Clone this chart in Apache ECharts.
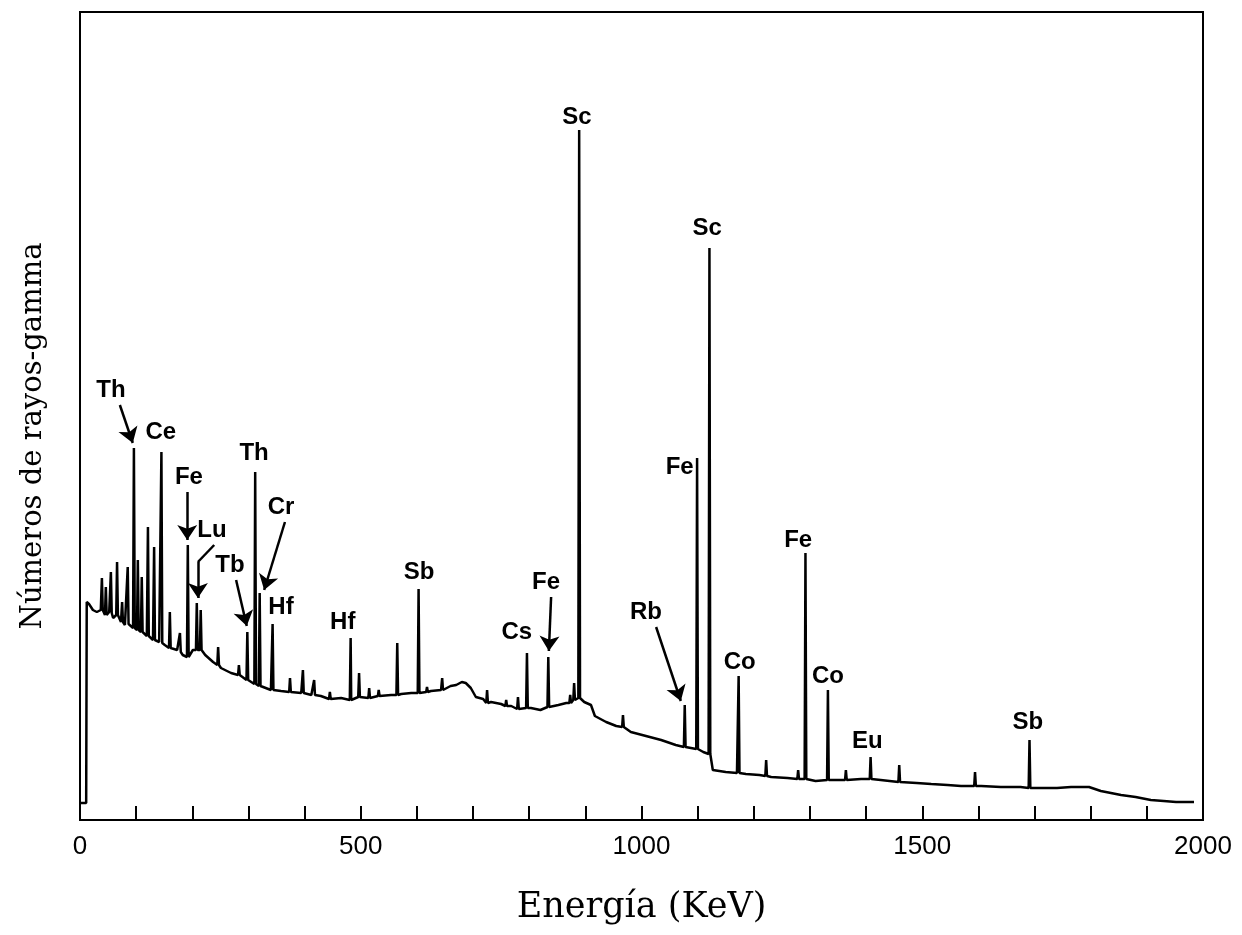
<!DOCTYPE html>
<html>
<head>
<meta charset="utf-8">
<script src="https://cdn.jsdelivr.net/npm/echarts@6/dist/echarts.min.js"></script>
<style>html,body{margin:0;padding:0;background:#fff}#c{width:1242px;height:935px}</style>
</head>
<body>
<div id="c"></div>
<script>
// Continuum (baseline) of the spectrum: energy (keV) and counts (arbitrary units)
const baseE = [0, 11, 12, 16, 23, 30, 37, 45, 52, 59, 66, 73, 80, 87, 98, 109, 119, 130, 141, 151, 162, 173, 183, 194, 201, 212, 223, 237, 251, 269, 287, 305, 322, 340, 358, 376, 394, 412, 429, 447, 465, 483, 500, 518, 536, 554, 572, 590, 607, 625, 643, 660, 670, 680, 687, 696, 705, 718, 732, 750, 768, 785, 803, 820, 839, 852, 866, 883, 898, 910, 917, 937, 955, 981, 1008, 1035, 1061, 1088, 1110, 1127, 1150, 1170, 1186, 1210, 1231, 1260, 1284, 1310, 1337, 1391, 1426, 1462, 1490, 1516, 1545, 1569, 1605, 1640, 1675, 1711, 1740, 1765, 1797, 1818, 1854, 1880, 1907, 1930, 1952, 1984];
const baseV = [17, 17, 218, 216, 210, 208, 210, 205, 208, 202, 205, 198, 195, 198, 190, 188, 184, 180, 178, 175, 172, 170, 165, 162, 170, 172, 165, 158, 152, 147, 143, 138, 133, 130, 129, 128, 127, 125, 124, 121, 122, 120, 123, 122, 124, 125, 126, 127, 128, 129, 130, 134, 135, 138, 137, 132, 123, 121, 118, 116, 114, 111, 112, 110, 113, 115, 117, 122, 118, 115, 104, 98, 94, 88, 84, 80, 75, 72, 68, 50, 48, 47, 46, 45, 43, 42, 41, 39, 40, 41, 40, 38, 37, 36, 35, 34, 34, 33, 33, 32, 32, 33, 33, 29, 25, 23, 20, 19, 18, 18];

// Peaks: energy, continuum under the peak, peak top
const peakE    = [39, 46, 55, 66, 75, 85, 96, 103, 110, 121, 132, 145, 160, 178, 192, 208, 215, 246, 283, 298, 312, 320, 343, 374, 397, 417, 445, 482, 497, 515, 532, 565, 603, 618, 645, 725, 759, 780, 796, 834, 873, 880, 889, 967, 1077, 1099, 1121, 1173, 1222, 1279, 1292, 1332, 1364, 1408, 1459, 1594, 1691];
const peakBase = [210, 205, 207, 205, 198, 196, 192, 190, 188, 184, 180, 177, 172, 168, 163, 170, 170, 155, 145, 140, 136, 134, 130, 128, 127, 125, 121, 120, 123, 122, 124, 125, 127, 128, 130, 117, 114, 111, 112, 113, 117, 120, 122, 93, 73, 71, 66, 47, 44, 41, 41, 40, 40, 41, 38, 34, 32];
const peakTop  = [242, 233, 248, 258, 218, 253, 372, 260, 243, 293, 273, 368, 208, 187, 275, 217, 210, 173, 155, 188, 348, 227, 196, 142, 150, 140, 128, 182, 147, 132, 130, 177, 231, 133, 142, 130, 120, 123, 167, 163, 125, 137, 690, 105, 115, 362, 572, 144, 60, 50, 267, 130, 50, 63, 55, 48, 80];

// Element labels: text, energy position, height position
const labelText = ['Th', 'Ce', 'Fe', 'Lu', 'Tb', 'Th', 'Cr', 'Hf', 'Hf', 'Sb', 'Cs', 'Fe', 'Sc', 'Rb', 'Fe', 'Sc', 'Co', 'Fe', 'Co', 'Eu', 'Sb'];
const labelE    = [55, 144, 194, 235, 267, 310, 358, 358, 468, 604, 778, 830, 885, 1008, 1068, 1117, 1175, 1279, 1332, 1402, 1688];
const labelV    = [430, 388, 343, 290, 255, 367, 313, 213, 198, 248, 188, 238, 703, 208, 353, 592, 158, 280, 144, 79, 98];

// Arrows from labels to peaks (energy, height) point lists
const arrows = [
  [[71, 415], [94, 377]],
  [[191, 328], [191, 280]],
  [[239, 275], [210, 258], [210, 222]],
  [[278, 240], [297, 194]],
  [[365, 298], [328, 230]],
  [[839, 223], [835, 169]],
  [[1026, 193], [1070, 119]]
];

const xTickLabels = ['0', '500', '1000', '1500', '2000'];

// Build the spectrum polyline
const pts = [];
for (let i = 0; i < baseE.length; i++) pts.push([baseE[i], baseV[i]]);
const hw = 1.5;
for (let i = 0; i < peakE.length; i++) {
  pts.push([peakE[i] - hw, peakBase[i]]);
  pts.push([peakE[i], peakTop[i]]);
  pts.push([peakE[i] + hw, peakBase[i]]);
}
pts.sort((a, b) => a[0] - b[0]);

// Split arrows into plain segments and the final arrow-headed segment
const plainSeg = [], headSeg = [];
arrows.forEach(a => {
  for (let i = 0; i < a.length - 1; i++) {
    const seg = { coords: [a[i], a[i + 1]] };
    (i === a.length - 2 ? headSeg : plainSeg).push(seg);
  }
});

const chart = echarts.init(document.getElementById('c'));
chart.setOption({
  backgroundColor: '#fff',
  animation: false,
  grid: { left: 80, right: 39, top: 12, bottom: 115, show: true, borderColor: '#000', borderWidth: 2 },
  xAxis: {
    type: 'value', min: 0, max: 2000, interval: 100,
    name: 'Energía (KeV)', nameLocation: 'middle', nameGap: 70,
    nameTextStyle: { fontFamily: 'DejaVu Serif', fontSize: 35, color: '#000' },
    axisLine: { lineStyle: { color: '#000', width: 2 } },
    axisTick: { inside: true, length: 14, lineStyle: { color: '#000', width: 2 } },
    axisLabel: {
      margin: 14, fontFamily: 'Liberation Sans', fontSize: 26, color: '#000',
      formatter: v => (v % 500 === 0 ? xTickLabels[v / 500] : '')
    },
    splitLine: { show: false }
  },
  yAxis: {
    type: 'value', min: 0, max: 808,
    name: 'Números de rayos-gamma', nameLocation: 'middle', nameGap: 32, nameRotate: 90,
    nameTextStyle: { fontFamily: 'DejaVu Serif', fontSize: 29, color: '#000', padding: [0, 40, 0, 0] },
    axisLine: { show: true, lineStyle: { color: '#000', width: 2 } },
    axisTick: { show: false }, axisLabel: { show: false }, splitLine: { show: false }
  },
  series: [
    {
      type: 'line', data: pts, showSymbol: false, symbol: 'none',
      lineStyle: { color: '#000', width: 2.5 }, z: 3
    },
    {
      type: 'scatter', symbolSize: 1,
      itemStyle: { color: 'rgba(0,0,0,0)', opacity: 1 },
      data: labelText.map((t, i) => ({ value: [labelE[i], labelV[i]], name: t })),
      label: {
        show: true, position: 'inside', formatter: p => p.name, opacity: 1,
        fontFamily: 'Liberation Sans', fontSize: 24, fontWeight: 'bold', color: '#000'
      },
      z: 4
    },
    {
      type: 'lines', coordinateSystem: 'cartesian2d',
      symbol: ['none', 'none'],
      lineStyle: { color: '#000', width: 2.5, opacity: 1 },
      data: plainSeg, z: 4
    },
    {
      type: 'lines', coordinateSystem: 'cartesian2d',
      symbol: ['none', 'arrow'], symbolSize: 15,
      lineStyle: { color: '#000', width: 2.5, opacity: 1 },
      data: headSeg, z: 4
    }
  ]
});
</script>
</body>
</html>
